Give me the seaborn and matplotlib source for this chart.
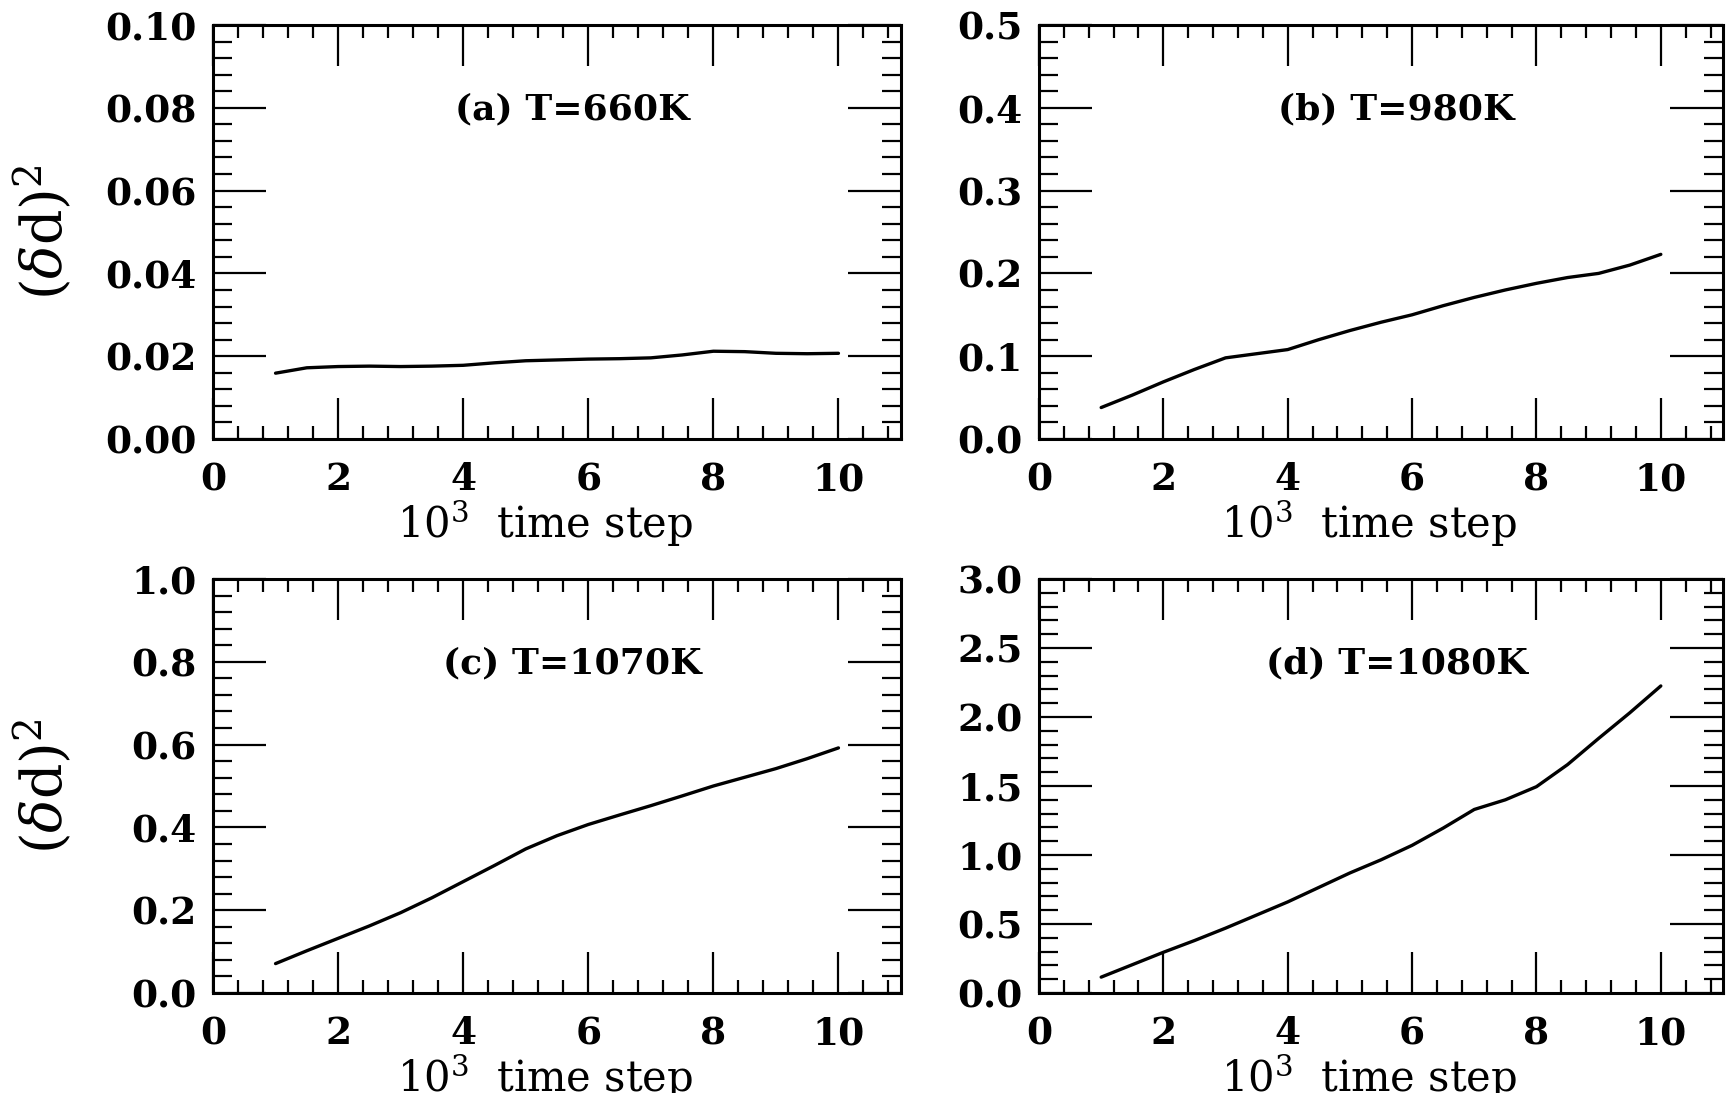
import numpy as np
import pandas as pd
import matplotlib
matplotlib.use("Agg")
import matplotlib.pyplot as plt
from matplotlib.ticker import MultipleLocator, FormatStrFormatter
import seaborn as sns

# time axis in units of 10^3 steps
steps = [1.0, 1.5, 2.0, 2.5, 3.0, 3.5, 4.0, 4.5, 5.0, 5.5,
         6.0, 6.5, 7.0, 7.5, 8.0, 8.5, 9.0, 9.5, 10.0]

# mean-square fluctuation (delta d)^2 at each temperature
dd2_660K = [0.0159, 0.0172, 0.0175, 0.0176, 0.0175, 0.0176, 0.0178, 0.0184, 0.0189, 0.0191,
            0.0193, 0.0194, 0.0196, 0.0203, 0.0212, 0.0211, 0.0207, 0.0206, 0.0207]
dd2_980K = [0.038, 0.053, 0.069, 0.084, 0.098, 0.103, 0.108, 0.120, 0.131, 0.141,
            0.150, 0.161, 0.171, 0.180, 0.188, 0.195, 0.200, 0.210, 0.223]
dd2_1070K = [0.071, 0.102, 0.132, 0.162, 0.194, 0.230, 0.269, 0.308, 0.348, 0.380,
             0.407, 0.430, 0.4525, 0.476, 0.500, 0.521, 0.542, 0.566, 0.592]
dd2_1080K = [0.115, 0.205, 0.295, 0.38, 0.47, 0.565, 0.66, 0.765, 0.87, 0.965,
             1.07, 1.195, 1.33, 1.40, 1.495, 1.655, 1.845, 2.03, 2.225]

panel_titles = ["(a) T=660K", "(b) T=980K", "(c) T=1070K", "(d) T=1080K"]
y_max = [0.10, 0.5, 1.0, 3.0]
y_major = [0.02, 0.1, 0.2, 0.5]
y_minor = [0.004, 0.02, 0.04, 0.1]
y_fmt = ["%.2f", "%.1f", "%.1f", "%.1f"]

sns.set_theme(style="ticks")
plt.rcParams["font.family"] = ["DejaVu Serif"]
plt.rcParams["mathtext.fontset"] = "dejavuserif"

fig = plt.figure(figsize=(17.26, 10.93), dpi=100)

W, H = 1726.0, 1093.0
col_left = [213 / W, 1039 / W]
col_width = [688 / W, 684 / W]
row_bottom = [1 - 439 / H, 1 - 993 / H]
row_height = 414 / H

series = [dd2_660K, dd2_980K, dd2_1070K, dd2_1080K]

for i, values in enumerate(series):
    r, c = divmod(i, 2)
    ax = fig.add_axes([col_left[c], row_bottom[r], col_width[c], row_height])
    df = pd.DataFrame({"step": steps, "dd2": values})
    sns.lineplot(data=df, x="step", y="dd2", ax=ax, color="black",
                 linewidth=2.4, estimator=None, sort=True)

    ax.set_xlim(0, 11)
    ax.set_ylim(0, y_max[i])
    ax.xaxis.set_major_locator(MultipleLocator(2))
    ax.xaxis.set_minor_locator(MultipleLocator(0.4))
    ax.yaxis.set_major_locator(MultipleLocator(y_major[i]))
    ax.yaxis.set_minor_locator(MultipleLocator(y_minor[i]))
    ax.xaxis.set_major_formatter(FormatStrFormatter("%d"))
    ax.yaxis.set_major_formatter(FormatStrFormatter(y_fmt[i]))

    ax.tick_params(axis="both", which="both", direction="in",
                   top=True, right=True, color="black", width=1.6)
    ax.tick_params(axis="x", which="major", length=29.5, pad=16)
    ax.tick_params(axis="x", which="minor", length=9.5)
    ax.tick_params(axis="y", which="major", length=38, pad=12)
    ax.tick_params(axis="y", which="minor", length=13.5)
    for lab in ax.get_xticklabels() + ax.get_yticklabels():
        lab.set_fontsize(27)
        lab.set_fontweight("bold")
        lab.set_color("black")

    for sp in ax.spines.values():
        sp.set_linewidth(2.2)
        sp.set_color("black")

    ax.text(5.75, 0.797 * y_max[i], panel_titles[i], ha="center", va="center",
            fontsize=26, fontweight="bold", color="black")

    ax.set_xlabel(r"$10^3$  time step", fontsize=30, color="black")
    ax.xaxis.set_label_coords(0.483, -0.142)
    ax.xaxis.label.set_va("top")
    if c == 0:
        ax.set_ylabel(r"$(\delta\mathrm{d})^2$", fontsize=40, color="black")
        ax.yaxis.set_label_coords(-0.2, 0.5)
    else:
        ax.set_ylabel("")

fig.savefig("out.png", dpi=100, facecolor="white")
